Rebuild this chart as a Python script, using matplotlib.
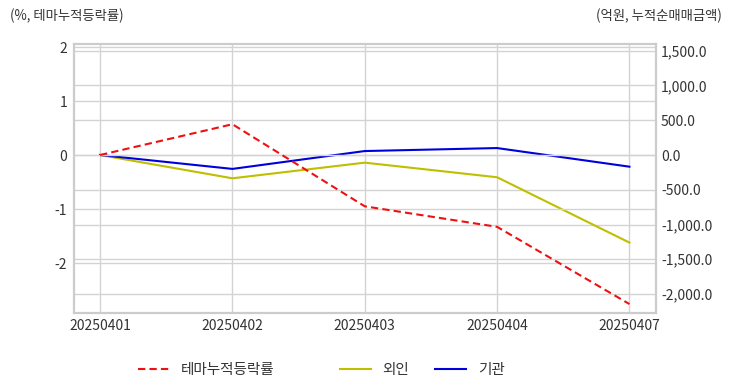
import matplotlib
matplotlib.use("Agg")
import matplotlib.pyplot as plt
from matplotlib.lines import Line2D
from matplotlib.ticker import FuncFormatter

plt.rcParams['font.family'] = ['Noto Sans CJK KR', 'DejaVu Sans']

dates = ["20250401", "20250402", "20250403", "20250404", "20250407"]
theme_rate = [0.0, 0.57, -0.95, -1.33, -2.76]      # %, left axis
foreign = [0.0, -335.0, -110.0, -320.0, -1260.0]   # 억원, right axis
institution = [0.0, -200.0, 57.0, 100.0, -168.0]   # 억원, right axis

left_ticks = [-2, -1, 0, 1, 2]
right_ticks = [-2000, -1500, -1000, -500, 0, 500, 1000, 1500]

txt = '#333333'
grid_c = '#d3d3d3'

fig = plt.figure(figsize=(7.32, 3.92), dpi=100)
ax2 = fig.add_axes([0.1011, 0.2015, 0.7944, 0.6875])
ax = ax2.twinx()
# left-axis series drawn on top, right-axis underneath
ax2.yaxis.tick_right()
ax.yaxis.tick_left()
ax.set_zorder(ax2.get_zorder() + 1)
ax.patch.set_visible(False)

x = list(range(len(dates)))

ax2.plot(x, foreign, color='#bfbf00', lw=1.5, label='외인')
ax2.plot(x, institution, color='#0000dd', lw=1.5, label='기관')
ax.plot(x, theme_rate, color='#ee1111', lw=1.5, ls=(0, (3.5, 2)), label='테마누적등락률')

ax2.set_xlim(-0.197, 4.197)
ax.set_ylim(-2.926, 2.065)
ax2.set_ylim(-2273, 1604)

ax.set_yticks(left_ticks)
ax.yaxis.set_major_formatter(FuncFormatter(lambda v, p: f"{v:.0f}"))
ax2.set_yticks(right_ticks)
ax2.yaxis.set_major_formatter(FuncFormatter(lambda v, p: f"{v:,.1f}"))
ax2.set_xticks(x)
ax2.set_xticklabels(dates)
ax.tick_params(axis='x', bottom=False, labelbottom=False)

for a in (ax, ax2):
    a.tick_params(length=0, labelsize=10, colors=txt)
    for s in a.spines.values():
        s.set_color('#cccccc')
        s.set_linewidth(1.5)
ax.tick_params(axis='y', pad=5)
ax2.tick_params(axis='y', pad=4)
ax2.tick_params(axis='x', pad=4)

ax2.grid(True, axis='both', color=grid_c, lw=1)
ax.grid(True, axis='y', color=grid_c, lw=1)
ax2.set_axisbelow(True)
ax.set_axisbelow(True)

fig.text(10 / 732, 1 - 16 / 392, "(%, 테마누적등락률)", fontsize=9.6, color=txt,
         ha='left', va='center')
fig.text(722 / 732, 1 - 16 / 392, "(억원, 누적순매매금액)", fontsize=9.6, color=txt,
         ha='right', va='center')

legend_items = [
    (Line2D([], [], color='#ee1111', lw=1.5, ls=(0, (3.5, 2))), '테마누적등락률', 134),
    (Line2D([], [], color='#bfbf00', lw=1.5), '외인', 336),
    (Line2D([], [], color='#0000dd', lw=1.5), '기관', 431),
]
for h, lab, px in legend_items:
    fig.legend([h], [lab], loc='center left', bbox_to_anchor=(px / 732, 1 - 370 / 392),
               frameon=False, fontsize=10.5, handlelength=2.1, handletextpad=0.8,
               labelcolor=txt, borderaxespad=0, borderpad=0.3)

fig.savefig("out.png", dpi=100)
